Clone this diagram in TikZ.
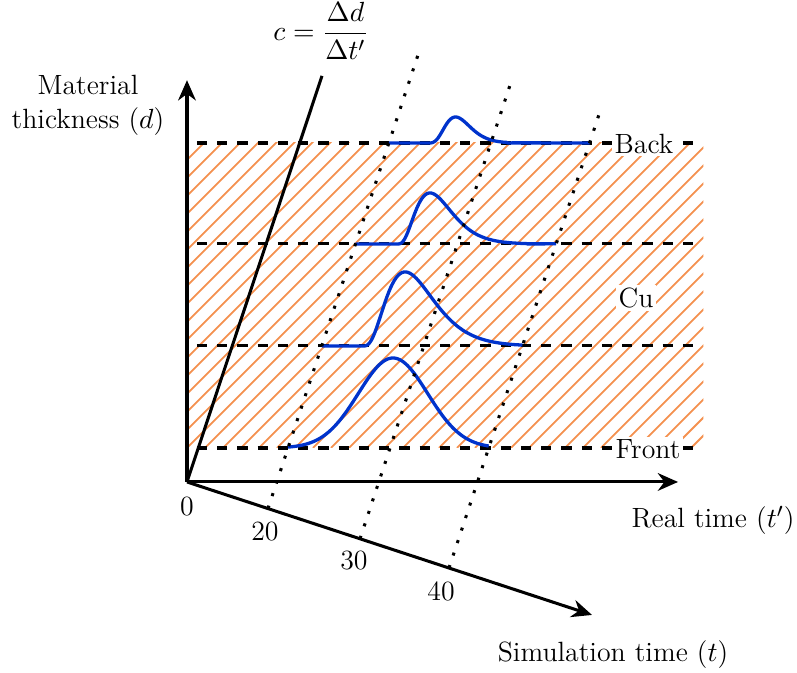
\documentclass[tikz,border=0pt]{standalone}
\usepackage{xcolor}
\usepackage{amsmath}
\usepackage{tikz}
\usetikzlibrary{arrows.meta,positioning}
\definecolor{hatchorange}{HTML}{F4914F}
\definecolor{pulseblue}{HTML}{0033CC}

\begin{document}
\begin{tikzpicture}[x=1cm,y=1cm,
  every node/.style={font=\fontsize{11}{13.5}\selectfont},
  axis/.style={-{Stealth[length=8pt,width=7pt]},line width=1.2pt},
  layer/.style={line width=1.2pt,dash pattern=on 4pt off 4pt},
  hatch/.style={hatchorange,line width=0.7pt},
  worldline/.style={line width=1.2pt,dash pattern=on 1.2pt off 4pt},
  pulse/.style={pulseblue,line width=1.3pt},
  layerlabel/.style={fill=white,inner sep=1pt}]
\useasboundingbox (-2.597,-2.653) rectangle (8.472,6.694);

% copper slab
\begin{scope}
\clip (0,0.472) rectangle (7.17,4.708);
\foreach \k in {-19,...,29} \draw[hatch] (\k*0.25,0.472) -- ++(4.3,4.3);
\end{scope}
\foreach \y in {0.472,1.889,3.306,4.708} \draw[layer] (0.139,\y) -- (7.08,\y);

% axes
\coordinate (O) at (0,0);
\coordinate (dtop) at (0,5.58);
\coordinate (rend) at (6.82,0);
\coordinate (send) at (5.625,-1.847);
\draw[axis] (O) -- (dtop);
\draw[axis] (O) -- (rend);
\draw[axis] (O) -- (send);
\node (dlabel) at (-1.375,5.236) [align=center] {Material\\thickness ($d$)};
\node (rlabel) at (7.306,-0.528) {Real time ($t'$)};
\node (slabel) at (5.917,-2.403) {Simulation time ($t$)};
\node (zero) at (0,-0.347) {0};

% speed line
\coordinate (ctop) at (1.875,5.64);
\draw[line width=1.2pt] (O) -- (ctop);
\node (speed) at (1.861,6.26) {$c = \dfrac{\Delta d}{\Delta t'}$};

% pulses
\draw[pulse] plot[domain=1.403:4.191,samples=100] (\x,{0.472+1.25*exp(-((\x-2.861)/0.68)^2)});
\draw[pulse] (1.872,1.889) -- (2.45,1.889) -- plot[domain=2.45:4.66,samples=100] (\x,{1.889+1.028*((\x-2.45)/0.58)^3*exp(3*(1-(\x-2.45)/0.58))});
\draw[pulse] (2.341,3.306) -- (2.93,3.306) -- plot[domain=2.93:5.129,samples=100] (\x,{3.306+0.708*((\x-2.93)/0.445)^3*exp(3*(1-(\x-2.93)/0.445))});
\draw[pulse] (2.805,4.708) -- (3.33,4.708) -- plot[domain=3.33:4.6,samples=80] (\x,{4.708+0.361*((\x-3.33)/0.4)^5*exp(5*(1-(\x-3.33)/0.4))}) -- (5.593,4.708);

% simulation times
\foreach \n/\px/\py/\lx/\ly in {20/1.125/-0.369/1.083/-0.694, 30/2.403/-0.789/2.319/-1.097, 40/3.639/-1.195/3.528/-1.514} {
  \coordinate (t\n) at (\px,\py);
  \coordinate (t\n top) at (\px+2.1,\py+6.35);
  \draw[worldline] (t\n) -- (t\n top);
  \node (l\n) at (\lx,\ly) {\n};
}

\node[layerlabel] (back) at (6.347,4.694) {Back};
\node[layerlabel] (cu) at (6.236,2.556) {Cu};
\node[layerlabel] (front) at (6.403,0.458) {Front};
\end{tikzpicture}
\end{document}
